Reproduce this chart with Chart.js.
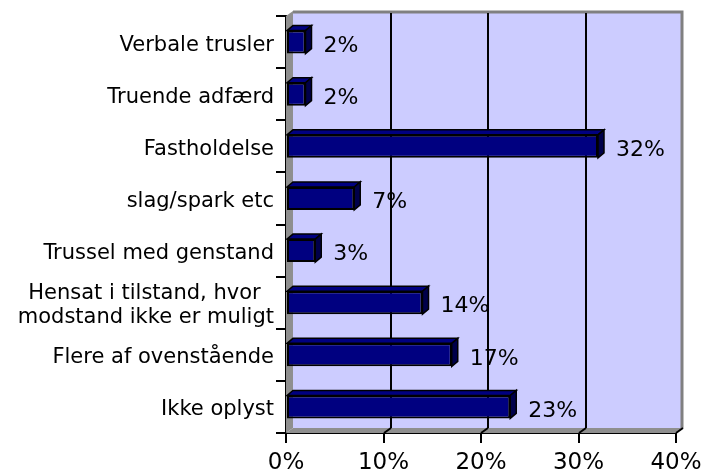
<!DOCTYPE html>
<html>
<head>
<meta charset="utf-8">
<script src="https://cdn.jsdelivr.net/npm/chart.js@4/dist/chart.umd.min.js"></script>
<style>
html,body{margin:0;padding:0;background:#fff;}
#wrap{width:704px;height:470px;}
</style>
</head>
<body>
<div id="wrap"><canvas id="c" width="704" height="470"></canvas></div>
<script>
const categories = ['Verbale trusler','Truende adfærd','Fastholdelse','slag/spark etc','Trussel med genstand',['Hensat i tilstand, hvor  ','modstand ikke er muligt'],'Flere af ovenstående','Ikke oplyst'];
const values = [2,2,32,7,3,14,17,23];
const xTickValues = [0,10,20,30,40];
const valueSuffix = '%';

const FONT = 'DejaVu Sans';
const WALL_DX = 7, WALL_DY = -5;
const BAR_DX = 6, BAR_DY = -5;

const wallPlugin = {
  id: 'wall3d',
  beforeDatasetsDraw(chart) {
    const {ctx, chartArea: a, scales: {x}} = chart;
    ctx.save();
    ctx.fillStyle = '#CCCCFF';
    ctx.fillRect(a.left + WALL_DX, a.top + WALL_DY, a.right - a.left, a.bottom - a.top);
    ctx.strokeStyle = '#808080';
    ctx.lineWidth = 3;
    ctx.beginPath();
    ctx.moveTo(a.left + WALL_DX, a.top + WALL_DY + 1);
    ctx.lineTo(a.right + WALL_DX - 1, a.top + WALL_DY + 1);
    ctx.lineTo(a.right + WALL_DX - 1, a.bottom + WALL_DY);
    ctx.stroke();
    ctx.fillStyle = '#8F8F8F';
    ctx.beginPath();
    ctx.moveTo(a.left, a.top);
    ctx.lineTo(a.left + WALL_DX, a.top + WALL_DY);
    ctx.lineTo(a.left + WALL_DX, a.bottom + WALL_DY);
    ctx.lineTo(a.left, a.bottom);
    ctx.closePath();
    ctx.fill();
    ctx.beginPath();
    ctx.moveTo(a.left, a.bottom);
    ctx.lineTo(a.right, a.bottom);
    ctx.lineTo(a.right + WALL_DX, a.bottom + WALL_DY);
    ctx.lineTo(a.left + WALL_DX, a.bottom + WALL_DY);
    ctx.closePath();
    ctx.fill();
    ctx.strokeStyle = '#000';
    ctx.lineWidth = 2;
    xTickValues.forEach(v => {
      const px = Math.round(x.getPixelForValue(v));
      if (v > 0 && v < 40) {
        ctx.beginPath();
        ctx.moveTo(px + WALL_DX, a.top + WALL_DY + 2);
        ctx.lineTo(px + WALL_DX, a.bottom + WALL_DY);
        ctx.stroke();
      }
      if (v > 0) {
        ctx.beginPath();
        ctx.moveTo(px, a.bottom);
        ctx.lineTo(px + WALL_DX, a.bottom + WALL_DY);
        ctx.stroke();
      }
    });
    ctx.restore();
  },
  afterDatasetsDraw(chart) {
    const {ctx} = chart;
    const meta = chart.getDatasetMeta(0);
    ctx.save();
    ctx.lineWidth = 1.5;
    ctx.strokeStyle = '#000';
    meta.data.forEach((el, i) => {
      const p = el.getProps(['x','y','base','height'], true);
      const left = p.base, right = p.x, top = p.y - p.height/2, bottom = p.y + p.height/2;
      ctx.fillStyle = '#000080';
      ctx.beginPath();
      ctx.moveTo(left, top);
      ctx.lineTo(left + BAR_DX, top + BAR_DY);
      ctx.lineTo(right + BAR_DX, top + BAR_DY);
      ctx.lineTo(right, top);
      ctx.closePath();
      ctx.fill(); ctx.stroke();
      ctx.fillStyle = '#00004A';
      ctx.beginPath();
      ctx.moveTo(right, top);
      ctx.lineTo(right + BAR_DX, top + BAR_DY);
      ctx.lineTo(right + BAR_DX, bottom + BAR_DY);
      ctx.lineTo(right, bottom);
      ctx.closePath();
      ctx.fill(); ctx.stroke();
      ctx.fillStyle = '#000';
      ctx.font = '22px "' + FONT + '"';
      ctx.textAlign = 'left';
      ctx.textBaseline = 'middle';
      ctx.fillText(values[i] + valueSuffix, right + 18, p.y + 4);
    });
    ctx.restore();
  }
};

new Chart(document.getElementById('c'), {
  type: 'bar',
  data: {
    labels: categories,
    datasets: [{
      data: values,
      backgroundColor: '#000080',
      borderColor: '#000000',
      borderWidth: 2,
      borderSkipped: false,
      categoryPercentage: 1,
      barPercentage: 0.44
    }]
  },
  options: {
    indexAxis: 'y',
    responsive: false,
    animation: false,
    devicePixelRatio: 1,
    layout: {padding: {top: 16, right: 28, left: 0, bottom: 0}},
    plugins: {legend: {display: false}, tooltip: {enabled: false}},
    scales: {
      x: {
        min: 0, max: 40,
        afterBuildTicks(s) { s.ticks = xTickValues.map(v => ({value: v})); },
        afterFit(s) { s.height = 37; s.paddingLeft = 0; s.paddingRight = 0; },
        ticks: {
          color: '#000',
          font: {family: FONT, size: 23},
          padding: 6,
          callback: v => v + valueSuffix
        },
        grid: {drawOnChartArea: false, drawTicks: true, tickLength: 10, color: '#000', lineWidth: 2},
        border: {display: true, color: '#000', width: 2}
      },
      y: {
        afterFit(s) { s.width = 286; s.paddingTop = 0; s.paddingBottom = 0; },
        ticks: {
          color: '#000',
          font: {family: FONT, size: 21, lineHeight: 1.15},
          padding: 2,
          labelOffset: 3
        },
        grid: {offset: true, drawOnChartArea: false, drawTicks: true, tickLength: 10, color: '#000', lineWidth: 2},
        border: {display: true, color: '#000', width: 2}
      }
    }
  },
  plugins: [wallPlugin]
});
</script>
</body>
</html>
